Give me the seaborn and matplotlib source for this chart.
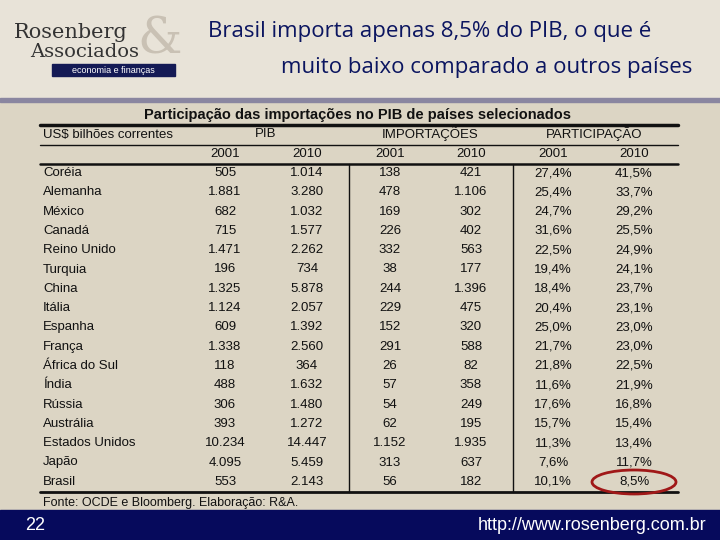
import matplotlib
matplotlib.use('Agg')
import matplotlib.pyplot as plt
import matplotlib.patches as mpatches
import seaborn as sns

sns.set_theme(style='white')
plt.rcParams['font.family'] = ['Liberation Sans', 'DejaVu Sans']

# data
countries = ['Coréia', 'Alemanha', 'México', 'Canadá', 'Reino Unido', 'Turquia', 'China', 'Itália',
             'Espanha', 'França', 'África do Sul', 'Índia', 'Rússia', 'Austrália', 'Estados Unidos',
             'Japão', 'Brasil']
pib_2001 = ['505', '1.881', '682', '715', '1.471', '196', '1.325', '1.124', '609', '1.338', '118',
            '488', '306', '393', '10.234', '4.095', '553']
pib_2010 = ['1.014', '3.280', '1.032', '1.577', '2.262', '734', '5.878', '2.057', '1.392', '2.560',
            '364', '1.632', '1.480', '1.272', '14.447', '5.459', '2.143']
imp_2001 = ['138', '478', '169', '226', '332', '38', '244', '229', '152', '291', '26', '57', '54',
            '62', '1.152', '313', '56']
imp_2010 = ['421', '1.106', '302', '402', '563', '177', '1.396', '475', '320', '588', '82', '358',
            '249', '195', '1.935', '637', '182']
part_2001 = ['27,4%', '25,4%', '24,7%', '31,6%', '22,5%', '19,4%', '18,4%', '20,4%', '25,0%', '21,7%',
             '21,8%', '11,6%', '17,6%', '15,7%', '11,3%', '7,6%', '10,1%']
part_2010 = ['41,5%', '33,7%', '29,2%', '25,5%', '24,9%', '24,1%', '23,7%', '23,1%', '23,0%', '23,0%',
             '22,5%', '21,9%', '16,8%', '15,4%', '13,4%', '11,7%', '8,5%']

fig = plt.figure(figsize=(7.2, 5.4), dpi=100)
ax = fig.add_axes([0, 0, 1, 1])
ax.set_xlim(0, 720)
ax.set_ylim(540, 0)
ax.axis('off')

# backgrounds
ax.add_patch(mpatches.Rectangle((0, 0), 720, 100, color='#e8e3d8', zorder=0))
ax.add_patch(mpatches.Rectangle((0, 100), 720, 410, color='#dcd5c4', zorder=0))
ax.add_patch(mpatches.Rectangle((0, 98), 720, 4, color='#8a86a0', zorder=1))
ax.add_patch(mpatches.Rectangle((0, 510), 720, 30, color='#060a5c', zorder=1))

# header / logo
ax.text(208, 32, 'Brasil importa apenas 8,5% do PIB, o que é', fontsize=16, color='#0b1560',
        family=['Open Sans', 'DejaVu Sans'], va='center')
ax.text(692, 67, 'muito baixo comparado a outros países', fontsize=16, color='#0b1560',
        family=['Open Sans', 'DejaVu Sans'], va='center', ha='right')
ax.text(160, 40, '&', fontsize=36, color='#c9c1b4', family='DejaVu Serif', va='center',
        ha='center', zorder=0.5)
ax.text(14, 33, 'Rosenberg', fontsize=15, color='#333333', family='DejaVu Serif', va='center')
ax.text(30, 52, 'Associados', fontsize=14, color='#333333', family='DejaVu Serif', va='center')
ax.add_patch(mpatches.Rectangle((52, 64), 123, 12, color='#141a55', zorder=2))
ax.text(113, 70.5, 'economia e finanças', fontsize=6.5, color='white', ha='center', va='center', zorder=3)

# table
ax.text(358, 115, 'Participação das importações no PIB de países selecionados', fontsize=10.5,
        fontweight='bold', ha='center', va='center', color='#111111')
ax.text(43, 135, 'US$ bilhões correntes', fontsize=9.5, va='center', color='#111111')
for xc, lab in [(266, 'PIB'), (430, 'IMPORTAÇÕES'), (594, 'PARTICIPAÇÃO')]:
    ax.text(xc, 134, lab, fontsize=9.5, ha='center', va='center', color='#111111')
cols_x = [225, 307, 390, 471, 553, 634]
for xc, yr in zip(cols_x, ['2001', '2010'] * 3):
    ax.text(xc, 154, yr, fontsize=9.5, ha='center', va='center', color='#111111')

row0, dy = 173, 19.3
columns = [pib_2001, pib_2010, imp_2001, imp_2010, part_2001, part_2010]
for i, c in enumerate(countries):
    y = row0 + i * dy
    ax.text(43, y, c, fontsize=9.5, va='center', color='#111111')
    for xc, col in zip(cols_x, columns):
        ax.text(xc, y, col[i], fontsize=9.5, ha='center', va='center', color='#111111')

ax.plot([40, 678], [125, 125], color='#111111', lw=2.5)
ax.plot([40, 678], [145, 145], color='#111111', lw=1)
ax.plot([40, 678], [164, 164], color='#111111', lw=1.8)
ax.plot([40, 678], [492, 492], color='#111111', lw=2)
for xv in [349, 513]:
    ax.plot([xv, xv], [164, 492], color='#111111', lw=1)
ax.add_patch(mpatches.Ellipse((634, 482), 84, 24, fill=False, edgecolor='#a01818', lw=2, zorder=4))
ax.text(43, 503, 'Fonte: OCDE e Bloomberg. Elaboração: R&A.', fontsize=9, va='center', color='#111111')

# footer
ax.text(25, 525, '22', fontsize=13, color='white', va='center')
ax.text(706, 525, 'http://www.rosenberg.com.br', fontsize=13, color='white', va='center', ha='right')

fig.savefig('out.png', dpi=100)
